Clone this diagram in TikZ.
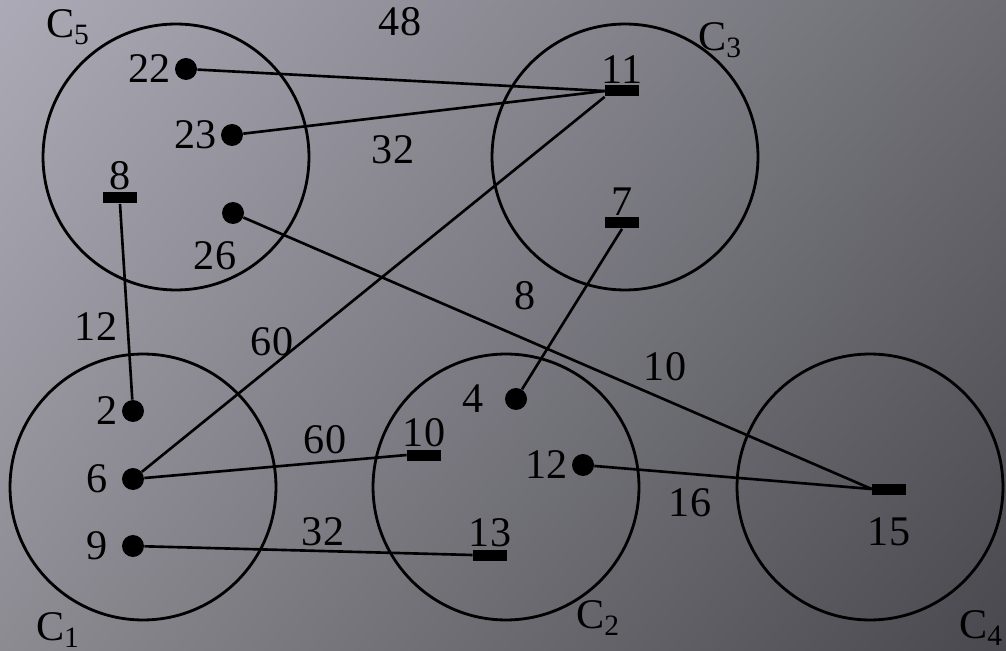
\documentclass[tikz,border=0pt]{standalone}
\usepackage{fontspec}
\setmainfont{Liberation Serif}
\usepackage{xcolor}
\usetikzlibrary{shadings}

\definecolor{bgTopLeft}{RGB}{172,170,182}
\definecolor{bgTopRight}{RGB}{108,108,114}
\definecolor{bgBotLeft}{RGB}{140,139,146}
\definecolor{bgBotRight}{RGB}{72,72,78}

\begin{document}
\begin{tikzpicture}[x=0.02cm, y=-0.02cm,
        cluster/.style={draw, circle, line width=1.6pt, minimum size=5.32cm, inner sep=0pt},
        dot/.style={circle, fill=black, minimum size=0.44cm, inner sep=0pt},
        bar/.style={rectangle, fill=black, minimum width=0.68cm, minimum height=0.22cm, inner sep=0pt},
        lbl/.style={font=\fontsize{24}{28}\selectfont, inner sep=1pt},
        every label/.style={lbl},
        link/.style={line width=1.5pt}
    ]
        % ── Background ───────────────────────────────────────────────────
        \useasboundingbox (0,0) rectangle (1006,651);
        \shade[upper left=bgTopLeft, upper right=bgTopRight,
               lower left=bgBotLeft, lower right=bgBotRight] (0,0) rectangle (1006,651);

        % ── Clusters ─────────────────────────────────────────────────────
        \node[cluster] (c5) at (176, 157) {};
        \node[cluster] (c3) at (625, 157) {};
        \node[cluster] (c1) at (143, 487) {};
        \node[cluster] (c2) at (506, 487) {};
        \node[cluster] (c4) at (870, 487) {};

        \node[lbl] (lc5) at (68, 27)   {C\textsubscript{5}};
        \node[lbl] (lc3) at (720, 40)  {C\textsubscript{3}};
        \node[lbl] (lc1) at (58, 630)  {C\textsubscript{1}};
        \node[lbl] (lc2) at (598, 618) {C\textsubscript{2}};
        \node[lbl] (lc4) at (981, 628) {C\textsubscript{4}};

        % ── Points (dots) and ports (bars) ───────────────────────────────
        \node[dot, label={[label distance=1pt]left:22}] (d22) at (186, 69)  {};
        \node[dot, label={[label distance=1pt]left:23}] (d23) at (232, 135) {};
        \node[dot, label={[xshift=-0.36cm, yshift=-0.3cm]below:26}] (d26) at (233, 213) {};
        \node[bar, label={above:8}]  (b8)  at (120, 198) {};

        \node[bar, label={above:11}] (b11) at (622, 91)  {};
        \node[bar, label={above:7}]  (b7)  at (622, 223) {};

        \node[dot, label={[label distance=1pt]left:2}]  (d2) at (133, 411) {};
        \node[dot, label={[label distance=7pt]left:6}]  (d6) at (133, 479) {};
        \node[dot, label={[label distance=7pt]left:9}]  (d9) at (133, 546) {};

        \node[dot, label={[label distance=11pt]left:4}] (d4)  at (516, 399) {};
        \node[dot, label={[label distance=1pt]left:12}] (d12) at (583, 465) {};
        \node[bar, label={above:10}] (b10) at (424, 455) {};
        \node[bar, label={above:13}] (b13) at (490, 555) {};

        \node[bar, label={[label distance=12pt]below:15}] (b15) at (889, 489) {};

        % ── Links ────────────────────────────────────────────────────────
        \draw[link] (d22) -- (b11.west);
        \draw[link] (d23) -- (b11.west);
        \draw[link] (d6)  -- (b11.south west);
        \draw[link] (b8.south) -- (d2);
        \draw[link] (d26) -- (b15.west);
        \draw[link] (b7.south) -- (d4);
        \draw[link] (d6)  -- (b10.west);
        \draw[link] (d9)  -- (b13.west);
        \draw[link] (d12) -- (b15.west);

        % ── Weights ──────────────────────────────────────────────────────
        \node[lbl] (w48)  at (400, 22)  {48};
        \node[lbl] (w32a) at (393, 150) {32};
        \node[lbl] (w12)  at (96, 327)  {12};
        \node[lbl] (w60a) at (272, 342) {60};
        \node[lbl] (w8)   at (525, 296) {8};
        \node[lbl] (w10)  at (665, 367) {10};
        \node[lbl] (w60b) at (325, 440) {60};
        \node[lbl] (w32b) at (323, 532) {32};
        \node[lbl] (w16)  at (690, 503) {16};

    \end{tikzpicture}
\end{document}
